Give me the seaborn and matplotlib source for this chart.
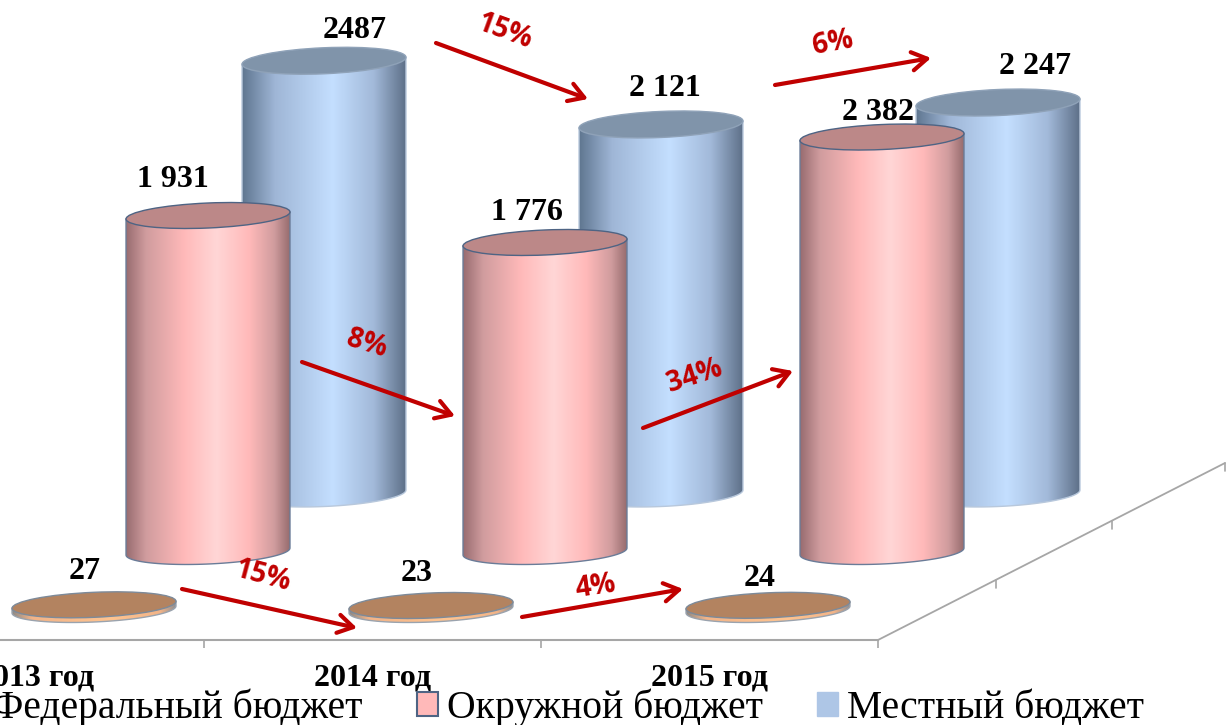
import numpy as np
import seaborn as sns
import matplotlib
matplotlib.use('Agg')
import matplotlib.pyplot as plt
from matplotlib.colors import LinearSegmentedColormap
from matplotlib.lines import Line2D
from matplotlib.patches import Ellipse, Patch, PathPatch
from matplotlib.path import Path
from matplotlib.transforms import IdentityTransform

years = ['2013 год', '2014 год', '2015 год']
series_names = ['Федеральный бюджет', 'Окружной бюджет', 'Местный бюджет']
federal = [27, 23, 24]
okrug = [1931, 1776, 2382]
local = [2487, 2121, 2247]
federal_labels = ['27', '23', '24']
okrug_labels = ['1 931', '1 776', '2 382']
local_labels = ['2487', '2 121', '2 247']

W, H = 1231, 725
STEP = 337
PX_PER_UNIT = 0.174
YMAX = 3000
TILT = np.radians(2.5)

sns.set_theme(style='white')
plt.rcParams['font.family'] = ['Liberation Serif', 'DejaVu Serif']

fig = plt.figure(figsize=(W / 100, H / 100), dpi=100)
fig.patch.set_facecolor('white')

pink_cmap = LinearSegmentedColormap.from_list('pink', [
    (0, '#986C70'), (0.12, '#D09C9E'), (0.35, '#FFB9B9'), (0.55, '#FFD6D6'),
    (0.75, '#FFB9B9'), (0.9, '#D09C9E'), (1, '#946A6C')])
blue_cmap = LinearSegmentedColormap.from_list('blue', [
    (0, '#5F7690'), (0.2, '#9FB6D6'), (0.55, '#C4DFFF'),
    (0.8, '#A2B9D9'), (1, '#5C6E86')])
disc_cmap = LinearSegmentedColormap.from_list('disc', [
    (0, '#8E8A86'), (0.12, '#F2B488'), (0.6, '#FFC490'), (0.9, '#F2B488'), (1, '#8C8D92')])


def row_axes(first_center, base_y, zorder):
    left = first_center - STEP / 2
    ax = fig.add_axes([left / W, (H - base_y) / H, 3 * STEP / W, YMAX * PX_PER_UNIT / H],
                      zorder=zorder)
    ax.set_axis_off()
    return ax


def ellipse_pts(cx, cy, a, b, t):
    x = a * np.cos(t)
    y = b * np.sin(t)
    return cx + x * np.cos(TILT) - y * np.sin(TILT), cy + x * np.sin(TILT) + y * np.cos(TILT)


def draw_row(ax, values, labels, offsets, cmap, top_color, edge_color, side_edge, ell_h):
    sns.barplot(x=years, y=values, ax=ax, width=0.487, color='white')
    ax.set_xlim(-0.5, 2.5)
    ax.set_ylim(0, YMAX)
    for bar, value, label, off in zip(ax.patches, values, labels, offsets):
        bar.set_alpha(0)
        x0 = bar.get_x()
        x1 = x0 + bar.get_width()
        xc = (x0 + x1) / 2
        cx, y_base = ax.transData.transform((xc, 0))
        _, y_top = ax.transData.transform((xc, value))
        left_px, _ = ax.transData.transform((x0, 0))
        a = cx - left_px
        b = ell_h / 2

        # side of the cylinder, with the rounded lower edge
        t = np.linspace(np.pi, 2 * np.pi, 60)
        low_x, low_y = ellipse_pts(cx, y_base, a, b, t)
        rx, ry = ellipse_pts(cx, y_top, a, 0, 0.0)
        lx, ly = ellipse_pts(cx, y_top, a, 0, np.pi)
        verts = [(lx, ly)] + list(zip(low_x, low_y)) + [(rx, ry), (lx, ly)]
        side = Path(verts, closed=True)

        # extend the gradient under the base so the rounded edge is filled too
        pad = 2 * ell_h / PX_PER_UNIT
        img = ax.imshow(np.linspace(0, 1, 256).reshape(1, -1), cmap=cmap, aspect='auto',
                        extent=(x0, x1, -pad, value + pad), zorder=2)
        img.set_clip_box(fig.bbox)
        img.set_clip_path(side, transform=IdentityTransform())
        ax.add_patch(PathPatch(side, fc='none', ec=side_edge, lw=1.0, zorder=3,
                               transform=IdentityTransform(), clip_on=False))
        ax.add_patch(Ellipse((cx, y_top), 2 * a, ell_h, angle=np.degrees(TILT), fc=top_color,
                             ec=edge_color, lw=1.0, zorder=4,
                             transform=IdentityTransform(), clip_on=False))
        ax.annotate(label, (xc, value), xytext=off, textcoords='offset pixels', ha='center',
                    va='center', fontsize=23, fontweight='bold', color='black', zorder=6,
                    annotation_clip=False)
    ax.set_xlim(-0.5, 2.5)
    ax.set_ylim(0, YMAX)


# floor with the category axis
floor = fig.add_axes([(204 - STEP) / W, (H - 640) / H, 3 * STEP / W, 100 / H], zorder=0)
floor.patch.set_alpha(0)
floor.set_xlim(-0.5, 2.5)
floor.set_ylim(0, 1)
for name in ['top', 'left', 'right']:
    floor.spines[name].set_visible(False)
floor.spines['bottom'].set_color('#A6A6A6')
floor.spines['bottom'].set_linewidth(1.5)
floor.set_yticks([])
floor.set_xticks([-0.5, 0.5, 1.5, 2.5], labels=[])
floor.set_xticks([0, 1, 2], labels=years, minor=True)
floor.tick_params(axis='x', which='major', length=5.5, width=1.2, color='#A6A6A6', bottom=True)
floor.tick_params(axis='x', which='minor', length=0, pad=17, labelsize=23)
for t in floor.get_xticklabels(minor=True):
    t.set_fontweight('bold')
    t.set_color('black')

# depth axis going away to the right
fig.add_artist(Line2D([878 / W, 1225 / W], [(H - 640) / H, (H - 463) / H], color='#A6A6A6', lw=1.3))
for tx, ty in [(996, 580), (1112, 521), (1225, 463)]:
    fig.add_artist(Line2D([tx / W, tx / W], [(H - ty) / H, (H - ty - 8) / H], color='#A6A6A6', lw=1.2))

ax_local = row_axes(324, 493.5, 1)
ax_okrug = row_axes(208, 551.5, 2)
ax_federal = row_axes(94, 609.5, 3)

draw_row(ax_local, local, local_labels, [(31, 30), (4, 36), (37, 36)],
         blue_cmap, '#8094AA', '#8FA2B8', '#B8C8DC', 26)
draw_row(ax_okrug, okrug, okrug_labels, [(-35, 36), (-18, 30), (-4, 25)],
         pink_cmap, '#BC8888', '#4E6484', '#6A7C98', 25)
draw_row(ax_federal, federal, federal_labels, [(-9, 33), (-14, 32), (-8, 27)],
         disc_cmap, '#B38360', '#7D8A99', '#9AA3AE', 25)

# arrows and percent labels, in picture pixels
over = fig.add_axes([0, 0, 1, 1], zorder=5)
over.set_xlim(0, W)
over.set_ylim(H, 0)
over.set_axis_off()
arrows = [((436, 43), (588, 99)), ((775, 85), (931, 58)), ((302, 362), (455, 416)),
          ((643, 428), (793, 371)), ((182, 589), (357, 628)), ((522, 617), (683, 589))]
pct = [('15%', 505, 32, -20), ('6%', 833, 43, 10), ('8%', 367, 344, -17),
       ('34%', 695, 376, 18), ('15%', 263, 576, -15), ('4%', 596, 587, 8)]
for start, end in arrows:
    over.annotate('', xy=end, xytext=start,
                  arrowprops=dict(arrowstyle='->,head_length=0.9,head_width=0.55', color='#C00000',
                                  lw=3, shrinkA=0, shrinkB=0))
for text, x, y, rot in pct:
    over.text(x, y, text, color='#C00000', fontsize=20, fontweight='bold',
              family='Open Sans', rotation=rot, ha='center', va='center')

handles = [Patch(fc='#B8A080', ec='#4E6484'),
           Patch(fc='#FFB9B9', ec='#4E6484', lw=1.5),
           Patch(fc='#AEC6E6', ec='#AEC6E6')]
fig.legend(handles, series_names, loc='lower left', bbox_to_anchor=(-38, -2),
           bbox_transform=IdentityTransform(), ncol=3, frameon=False, fontsize=28.5,
           handlelength=0.53, handleheight=0.53, handletextpad=0.23, columnspacing=1.37,
           borderpad=0, borderaxespad=0, labelcolor='black')

fig.savefig('out.png', dpi=100)
